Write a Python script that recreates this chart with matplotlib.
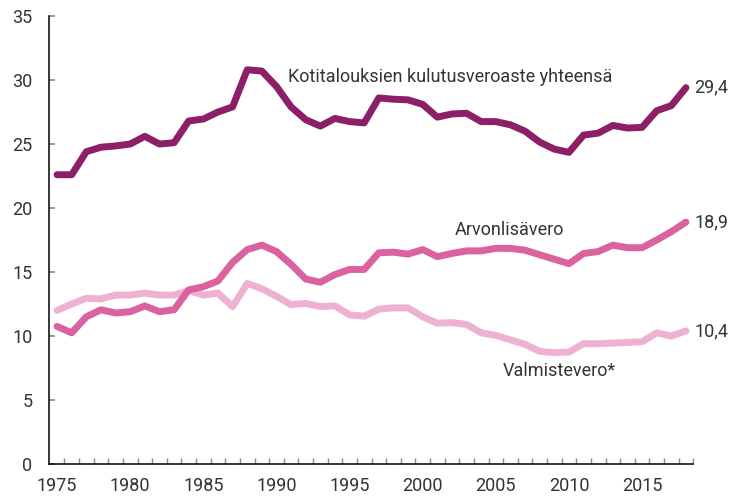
"""Kotitalouksien kulutusveroaste 1975-2018: total, VAT and excise lines."""

import matplotlib
matplotlib.use("Agg")
import matplotlib.pyplot as plt
import numpy as np
from matplotlib.ticker import MultipleLocator

years = np.arange(1975, 2019)

yhteensa = [22.6, 22.6, 24.4, 24.75, 24.85, 25.0, 25.6, 25.0, 25.1, 26.8,
            26.95, 27.5, 27.9, 30.8, 30.7, 29.5, 27.9, 26.9, 26.4, 27.0,
            26.75, 26.65, 28.6, 28.5, 28.45, 28.1, 27.1, 27.35, 27.4, 26.75,
            26.75, 26.5, 26.0, 25.15, 24.6, 24.35, 25.7, 25.85, 26.45, 26.25,
            26.3, 27.6, 28.0, 29.4]

arvonlisavero = [10.75, 10.25, 11.5, 12.05, 11.8, 11.9, 12.35, 11.9, 12.05, 13.6,
                 13.85, 14.3, 15.75, 16.75, 17.1, 16.6, 15.6, 14.45, 14.2, 14.8,
                 15.2, 15.2, 16.5, 16.55, 16.4, 16.75, 16.2, 16.45, 16.65, 16.65,
                 16.85, 16.85, 16.7, 16.35, 16.0, 15.65, 16.45, 16.6, 17.1, 16.9,
                 16.9, 17.5, 18.15, 18.9]

valmistevero = [12.0, 12.5, 12.95, 12.9, 13.2, 13.2, 13.35, 13.2, 13.2, 13.55,
                13.2, 13.35, 12.3, 14.1, 13.7, 13.1, 12.45, 12.55, 12.3, 12.35,
                11.65, 11.55, 12.1, 12.2, 12.2, 11.5, 11.0, 11.05, 10.9, 10.25,
                10.05, 9.7, 9.35, 8.8, 8.7, 8.75, 9.4, 9.4, 9.45, 9.5,
                9.55, 10.25, 10.0, 10.4]

series = [
    (yhteensa, "#8c1f68", "Kotitalouksien kulutusveroaste yhteensä", (1990.8, 30.2), "29,4"),
    (arvonlisavero, "#d9629f", "Arvonlisävero", (2002.2, 18.3), "18,9"),
    (valmistevero, "#efb1d1", "Valmistevero*", (2005.5, 7.3), "10,4"),
]

plt.rcParams["font.family"] = ["Roboto", "DejaVu Sans"]
text_color = "#333333"

fig = plt.figure(figsize=(7.35, 4.96), dpi=100)
ax = fig.add_axes([0.0667, 0.0645, 0.8765, 0.9032])

# light lines first so the dark total stays on top
for values, color, name, label_pos, end_label in reversed(series):
    ax.plot(years, values, color=color, lw=5, solid_capstyle="round",
            solid_joinstyle="round")
    ax.text(label_pos[0], label_pos[1], name, fontsize=13, color=text_color,
            va="center", ha="left")
    ax.annotate(end_label, (years[-1], values[-1]), xytext=(6, 0),
                textcoords="offset points", fontsize=13, color=text_color,
                va="center", ha="left", annotation_clip=False)

ax.set_xlim(1974.45, 2018.5)
ax.set_ylim(0, 35)
ax.yaxis.set_major_locator(MultipleLocator(5))
ax.set_xticks(np.arange(1975, 2016, 5))
ax.set_xticks(np.arange(1975.5, 2019, 1), minor=True)

for side in ("top", "right"):
    ax.spines[side].set_visible(False)
for side in ("left", "bottom"):
    ax.spines[side].set_linewidth(1.1)
    ax.spines[side].set_color("black")

ax.tick_params(axis="y", direction="in", length=4, width=1.2, color="#888888",
               labelsize=13, labelcolor=text_color, pad=12)
ax.tick_params(axis="x", which="major", length=0, labelsize=13,
               labelcolor=text_color, pad=9)
ax.tick_params(axis="x", which="minor", direction="in", length=4, width=1.0,
               color="#888888")

fig.savefig("out.png", dpi=100)
